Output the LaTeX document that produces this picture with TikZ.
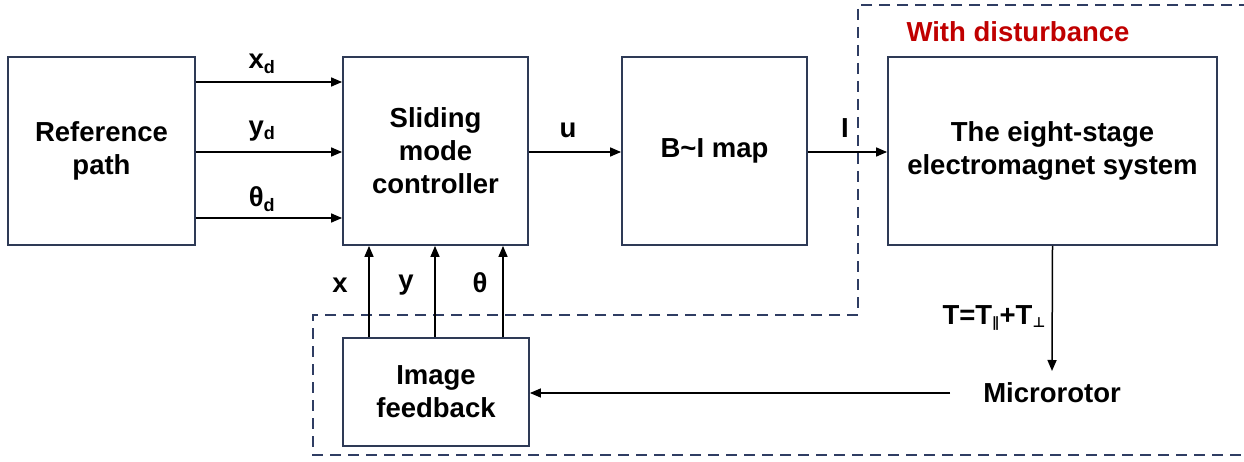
\documentclass[tikz,border=0pt]{standalone}
\usepackage{fontspec}
\setmainfont{Liberation Sans}
\newfontfamily\symfont{DejaVu Sans}
\usetikzlibrary{arrows.meta}
\definecolor{boxline}{HTML}{2E3A56}
\definecolor{dashline}{HTML}{2F3D63}
\definecolor{distred}{HTML}{C00000}
\tikzset{
  blk/.style={draw=boxline, line width=1.8pt, fill=white, inner sep=0pt,
    align=center, font=\fontsize{27.5}{33}\selectfont\bfseries},
  lbl/.style={inner sep=0pt, font=\fontsize{27.5}{33}\selectfont\bfseries},
  arr/.style={line width=1.5pt, -{Triangle[length=11pt,width=9pt]}},
  bound/.style={draw=dashline, line width=1.6pt, dash pattern=on 11pt off 7pt}
}
\newcommand{\sbd}[1]{\textsubscript{\fontsize{18}{18}\selectfont #1}}
\begin{document}
\begin{tikzpicture}[x=1pt,y=-1pt]
\useasboundingbox (0,0) rectangle (1244,462);
\fill[white] (0,0) rectangle (1244,462);

% disturbance boundary
\draw[bound] (1250,5) -- (858,5) -- (858,315) -- (313,315) -- (313,455) -- (1250,455);
\node[lbl, text=distred] (dist) at (1018,32) {With disturbance};

% blocks
\node[blk, minimum width=187pt, minimum height=188pt] (ref) at (101.5,151) {Reference\\path};
\node[blk, minimum width=185pt, minimum height=188pt] (ctrl) at (435.5,151) {Sliding\\mode\\controller};
\node[blk, minimum width=185pt, minimum height=188pt] (map) at (714.5,151) {B\char`\~I map};
\node[blk, minimum width=329pt, minimum height=188pt] (ems) at (1052.5,151) {The eight-stage\\electromagnet system};
\node[blk, minimum width=186pt, minimum height=108pt] (fb) at (436,392) {Image\\feedback};
\node[lbl] (rotor) at (1052,393) {Microrotor};

% reference signals
\coordinate (ya) at (0,82);
\coordinate (yb) at (0,152);
\coordinate (yc) at (0,218);
\draw[arr] (ref.east |- ya) -- (ctrl.west |- ya);
\draw[arr] (ref.east |- yb) -- (ctrl.west |- yb);
\draw[arr] (ref.east |- yc) -- (ctrl.west |- yc);
\node[lbl] (lxd) at (262,64) {x\sbd{d}};
\node[lbl] (lyd) at (262,131) {y\sbd{d}};
\node[lbl] (ltd) at (262,199) {θ\sbd{d}};

% forward path
\draw[arr] (ctrl.east |- yb) -- (map.west |- yb);
\node[lbl] (lu) at (568,130) {u};
\draw[arr] (map.east |- yb) -- (ems.west |- yb);
\node[lbl] (lI) at (845,128) {I};

% torque to microrotor
\coordinate (tend) at (1052,371);
\draw[arr] (ems.south) -- (tend);
\node[lbl, anchor=east] (lT) at (1046,318) {T=T\textsubscript{\fontsize{14}{14}\selectfont\symfont ∥}+T\textsubscript{\fontsize{14}{14}\selectfont\symfont ⊥}};

% feedback path
\coordinate (rw) at (950,393);
\draw[arr] (rw) -- (fb.east |- rw);
\coordinate (xa) at (369,0);
\coordinate (xb) at (435,0);
\coordinate (xc) at (503,0);
\draw[arr] (fb.north -| xa) -- (ctrl.south -| xa);
\draw[arr] (fb.north -| xb) -- (ctrl.south -| xb);
\draw[arr] (fb.north -| xc) -- (ctrl.south -| xc);
\node[lbl] (lx) at (340,285) {x};
\node[lbl] (ly) at (406,285) {y};
\node[lbl] (lth) at (480,283) {θ};
\end{tikzpicture}
\end{document}
